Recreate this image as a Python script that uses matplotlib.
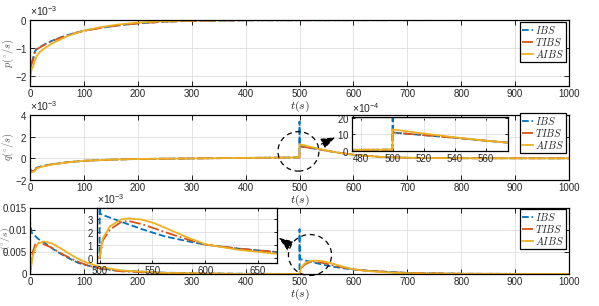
import numpy as np
import matplotlib
matplotlib.use('Agg')
import matplotlib.pyplot as plt
from matplotlib.patches import Ellipse
from matplotlib.ticker import ScalarFormatter, FuncFormatter

plt.rcParams['font.family'] = ['Liberation Sans', 'DejaVu Sans']
plt.rcParams['mathtext.fontset'] = 'custom'
plt.rcParams['mathtext.rm'] = 'Liberation Sans'
plt.rcParams['mathtext.it'] = 'Liberation Sans:italic'
plt.rcParams['font.size'] = 7

# ---- data (angular rates, values in units of 1e-3 deg/s) ----
labels = ['IBS', 'TIBS', 'AIBS']
colors = ['#0072BD', '#D95319', '#EDB120']
styles = ['--', '-.', '-']

# roll rate p
t_p = [0, 0.5, 3, 6, 9, 12, 20, 30, 40, 60, 80, 100, 130, 160, 200, 250, 300, 400, 1000]
p_ibs = [-2.2, -1.7, -1.55, -1.35, -1.12, -1.05, -0.95, -0.84, -0.75, -0.6, -0.48, -0.38,
         -0.28, -0.2, -0.12, -0.06, -0.03, -0.01, 0]
p_tibs = [-1.7, -1.68, -1.58, -1.4, -1.15, -1.06, -0.96, -0.85, -0.76, -0.61, -0.49, -0.39,
          -0.29, -0.2, -0.12, -0.06, -0.03, -0.01, 0]
t_p_a = [0, 1, 3, 6, 9, 12, 18, 28, 40, 56, 70, 100, 130, 160, 200, 250, 300, 400, 1000]
p_aibs = [-2.3, -2.0, -1.75, -1.65, -1.45, -1.3, -1.15, -1.0, -0.85, -0.7, -0.57, -0.38,
          -0.26, -0.17, -0.09, -0.04, -0.02, 0, 0]

# pitch rate q
t_q = [0, 2, 8, 12, 20, 40, 70, 100, 150, 200, 300, 400, 499.9, 500, 500.3,
       520, 540, 560, 575, 600, 650, 700, 800, 1000]
q_ibs = [-0.9, -1.25, -1.1, -0.88, -0.75, -0.55, -0.36, -0.23, -0.12, -0.06, -0.01, 0.04, 0.08,
         3.4, 1.12, 0.96, 0.8, 0.62, 0.5, 0.33, 0.13, 0.05, 0.01, 0]
q_tibs = [-0.9, -1.25, -1.12, -0.9, -0.76, -0.56, -0.36, -0.23, -0.12, -0.06, -0.01, 0.04, 0.08,
          1.12, 1.12, 0.96, 0.8, 0.62, 0.5, 0.33, 0.13, 0.05, 0.01, 0]
q_aibs = [-1.3, -1.3, -1.2, -0.95, -0.8, -0.58, -0.37, -0.23, -0.12, -0.06, -0.01, 0.04, 0.08,
          1.3, 1.3, 1.06, 0.83, 0.62, 0.5, 0.34, 0.13, 0.05, 0.01, 0]

# yaw rate r
t_r_i = [0, 0.01, 3, 15, 30, 45, 65, 90, 120, 160, 250, 350, 499.9, 500, 500.5, 505, 520,
         542, 562, 584, 600, 630, 667, 700, 800, 1000]
r_ibs = [0, 11.8, 9.4, 8.0, 6.8, 5.5, 4.0, 2.5, 1.5, 0.8, 0.3, 0.1, 0, 10.2, 3.4, 3.25, 2.8,
         2.16, 1.65, 1.27, 1.02, 0.72, 0.45, 0.25, 0.06, 0]
t_r = [0, 5, 10, 15, 25, 40, 60, 85, 105, 130, 170, 250, 400, 500, 503, 510, 520, 527, 540,
       551, 567, 584, 600, 631, 669, 700, 800, 1000]
r_tibs = [0, 5.0, 6.8, 7.1, 6.8, 6.0, 4.5, 3.0, 2.0, 1.2, 0.6, 0.2, 0, 0, 1.35, 2.2, 2.75,
          2.85, 2.6, 2.3, 1.85, 1.4, 1.02, 0.72, 0.43, 0.25, 0.06, 0]
r_aibs = [0, 4.0, 6.0, 6.9, 7.4, 7.0, 5.6, 3.7, 2.6, 1.6, 0.8, 0.25, 0, 0, 1.5, 2.45, 2.95,
          3.05, 2.95, 2.7, 2.15, 1.55, 1.05, 0.62, 0.3, 0.18, 0.04, 0]

p_series = [(t_p, p_ibs), (t_p, p_tibs), (t_p_a, p_aibs)]
q_series = [(t_q, q_ibs), (t_q, q_tibs), (t_q, q_aibs)]
r_series = [(t_r_i, r_ibs), (t_r, r_tibs), (t_r, r_aibs)]

W, H = 599, 306
fig = plt.figure(figsize=(W / 100, H / 100), dpi=100)
TXT = '#262626'


def px_axes(left, top, right, bottom):
    return fig.add_axes([left / W, 1 - bottom / H, (right - left) / W, (bottom - top) / H])


def style(ax, tl=3.5):
    ax.tick_params(direction='in', top=True, right=True, length=tl, width=0.6,
                   labelsize=7, colors='k', labelcolor=TXT, pad=2)
    for s in ax.spines.values():
        s.set_linewidth(0.9)
    ax.grid(True, color='#dedede', lw=0.6)
    ax.set_axisbelow(True)


def draw(ax, series, lw=1.3):
    for (t, v), c, ls, lab in zip(series, colors, styles, labels):
        ax.plot(t, np.array(v) * 1e-3, ls, color=c, lw=lw, label=r'$%s$' % lab)


def sci(ax, n):
    f = ScalarFormatter(useMathText=True)
    f.set_powerlimits((n, n))
    ax.yaxis.set_major_formatter(f)
    ax.yaxis.get_offset_text().set_fontsize(7.5)
    ax.yaxis.get_offset_text().set_color(TXT)


def legend(ax, y):
    leg = ax.legend(loc='upper right', bbox_to_anchor=(0.995, y), fontsize=7.5,
                    frameon=True, fancybox=False, edgecolor='k', framealpha=1,
                    borderpad=0.2, labelspacing=0.0, handlelength=1.1,
                    handletextpad=0.2, borderaxespad=0)
    leg.get_frame().set_linewidth(0.9)
    for t in leg.get_texts():
        t.set_math_fontfamily('cm')
        t.set_color(TXT)


ax1 = px_axes(30, 20, 569, 86)
ax2 = px_axes(30, 115, 569, 180)
ax3 = px_axes(30, 208, 569, 274)

# y labels placed in figure pixels (x centre, y centre)
for ax, ser, yl, lx, ly, fs in [(ax1, p_series, r'$p(^{\circ}/s)$', 8, 53, 7.5),
                                (ax2, q_series, r'$q(^{\circ}/s)$', 8, 147, 7.5),
                                (ax3, r_series, r'$r(^{\circ}/s)$', 5, 241, 7)]:
    style(ax)
    draw(ax, ser)
    ax.set_xlim(0, 1000)
    ax.set_xticks(np.arange(0, 1001, 100))
    ax.set_xlabel(r'$t(s)$', math_fontfamily='cm', labelpad=0, color=TXT, fontsize=8.5)
    fig.text(lx / W, 1 - ly / H, yl, rotation=90, ha='center', va='center',
             math_fontfamily='cm', color='#555555', fontsize=fs)

ax1.set_ylim(-2.36e-3, 0)
ax1.set_yticks([-2e-3, -1e-3, 0])
sci(ax1, -3)
legend(ax1, 0.97)

ax2.set_ylim(-2e-3, 4e-3)
ax2.set_yticks([-2e-3, 0, 2e-3, 4e-3])
sci(ax2, -3)
legend(ax2, 1.03)

ax3.set_ylim(0, 0.015)
ax3.set_yticks([0, 0.005, 0.01, 0.015])
ax3.yaxis.set_major_formatter(FuncFormatter(lambda v, pos: '%g' % round(v, 4)))
legend(ax3, 0.985)

# zoom markers
arrow = dict(arrowstyle='-|>,head_length=1.2,head_width=0.45',
             color='k', lw=0.9, ls=(0, (3, 2)))
ax2.add_patch(Ellipse((498, 0.64e-3), 76, 3.64e-3, fill=False, ls=(0, (4, 3)),
                      lw=0.9, ec='k', clip_on=False, zorder=5))
ax2.annotate('', xy=(571, 2.05e-3), xytext=(536, 1.2e-3), arrowprops=arrow, zorder=6)
ax3.add_patch(Ellipse((519.5, 4.32e-3), 80, 9.3e-3, fill=False, ls=(0, (4, 3)),
                      lw=0.9, ec='k', clip_on=False, zorder=5))
ax3.annotate('', xy=(457, 8.6e-3), xytext=(488, 6.0e-3), arrowprops=arrow, zorder=6)

# insets
in2 = px_axes(352, 117, 508, 151)
style(in2, tl=2.5)
draw(in2, q_series)
in2.set_xlim(474, 574)
in2.set_xticks([480, 500, 520, 540, 560])
in2.set_ylim(0, 2.06e-3)
in2.set_yticks([0, 1e-3, 2e-3])
sci(in2, -4)

in3 = px_axes(97, 208, 277, 263)
style(in3, tl=2.5)
draw(in3, r_series)
in3.set_xlim(497.5, 668)
in3.set_xticks([500, 550, 600, 650])
in3.set_ylim(-0.4e-3, 3.85e-3)
in3.set_yticks([0, 1e-3, 2e-3, 3e-3])
sci(in3, -3)

fig.savefig('out.png', dpi=100)
